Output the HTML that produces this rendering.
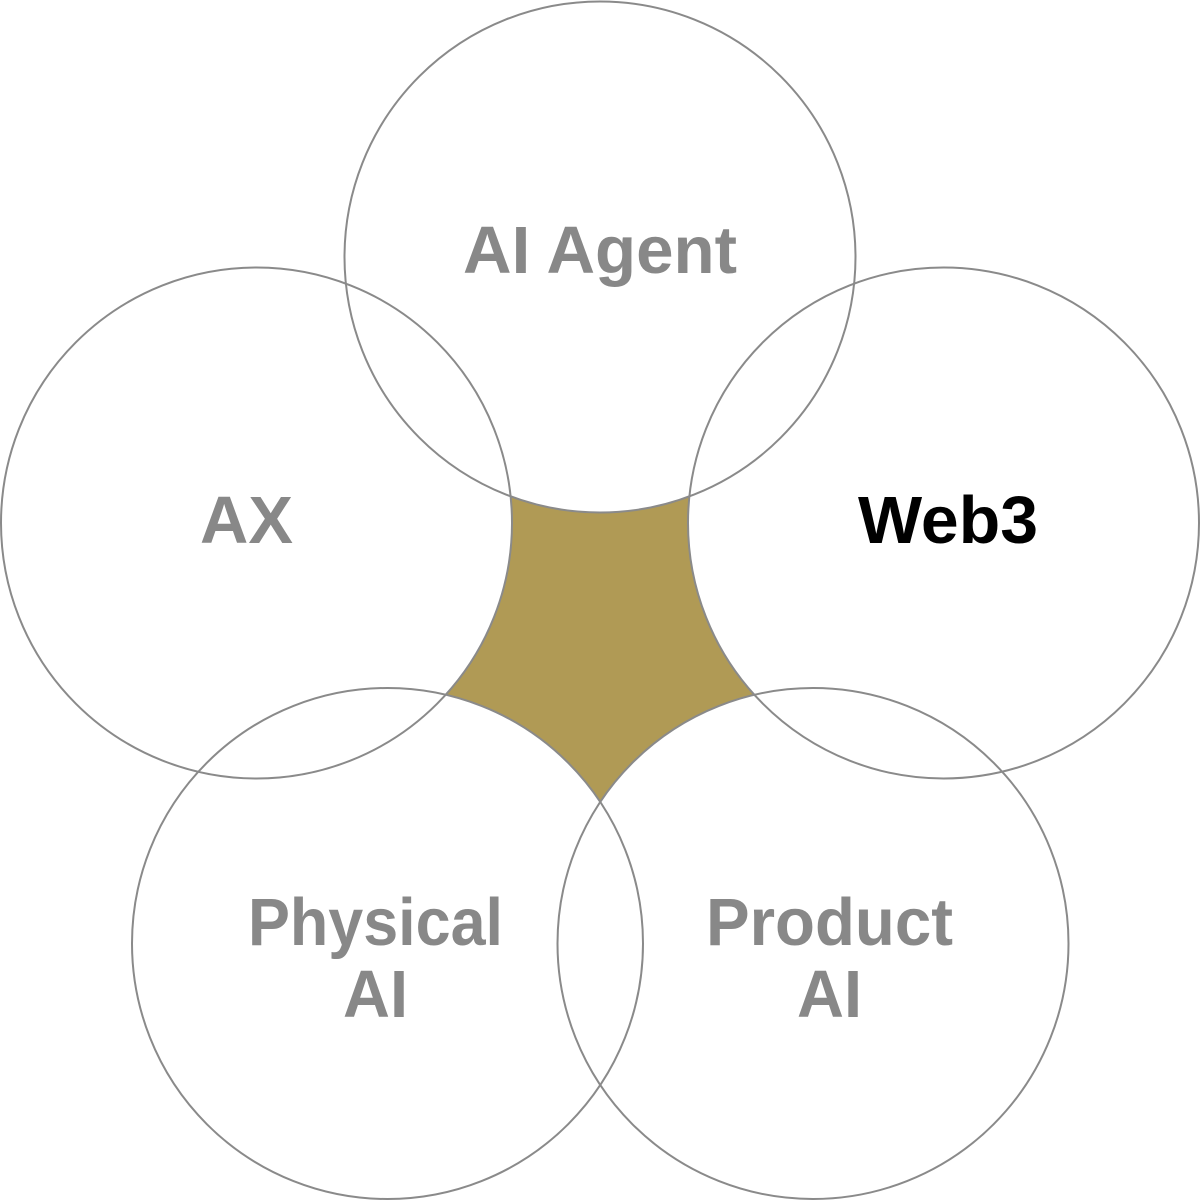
<!DOCTYPE html>
<html>
<head>
<meta charset="utf-8">
<style>
  html, body { margin: 0; padding: 0; background: #ffffff; }
  body { width: 1200px; height: 1200px; overflow: hidden; }
  svg { display: block; }
  text { font-family: "Liberation Sans", "DejaVu Sans", sans-serif; font-weight: bold; }
</style>
</head>
<body>
<svg width="1200" height="1200" viewBox="0 0 1200 1200" xmlns="http://www.w3.org/2000/svg">
  <rect width="1200" height="1200" fill="#ffffff"/>
  <!-- gold center -->
  <polygon points="600,257 943,523 813,943 387,943 256,523" fill="#B09A55"/>
  <!-- white fills -->
  <g fill="#ffffff" stroke="none">
    <circle cx="600" cy="257" r="255.5"/>
    <circle cx="256.5" cy="523" r="255.5"/>
    <circle cx="943.5" cy="523" r="255.5"/>
    <circle cx="387.5" cy="943.5" r="255.5"/>
    <circle cx="813" cy="943.5" r="255.5"/>
  </g>
  <!-- strokes -->
  <g fill="none" stroke="#8a8a8a" stroke-width="2">
    <circle cx="600" cy="257" r="255.5"/>
    <circle cx="256.5" cy="523" r="255.5"/>
    <circle cx="943.5" cy="523" r="255.5"/>
    <circle cx="387.5" cy="943.5" r="255.5"/>
    <circle cx="813" cy="943.5" r="255.5"/>
  </g>
  <!-- labels -->
  <g font-size="67" fill="#888888">
    <text x="463" y="273" textLength="274" lengthAdjust="spacingAndGlyphs">AI Agent</text>
    <text x="200" y="543" textLength="93" lengthAdjust="spacingAndGlyphs">AX</text>
    <text x="248" y="945" textLength="255" lengthAdjust="spacingAndGlyphs">Physical</text>
    <text x="343" y="1017" textLength="65" lengthAdjust="spacingAndGlyphs">AI</text>
    <text x="706" y="945" textLength="247" lengthAdjust="spacingAndGlyphs">Product</text>
    <text x="797" y="1017" textLength="65" lengthAdjust="spacingAndGlyphs">AI</text>
  </g>
  <text x="858" y="543" font-size="67" fill="#000000" textLength="180" lengthAdjust="spacingAndGlyphs">Web3</text>
</svg>
</body>
</html>
